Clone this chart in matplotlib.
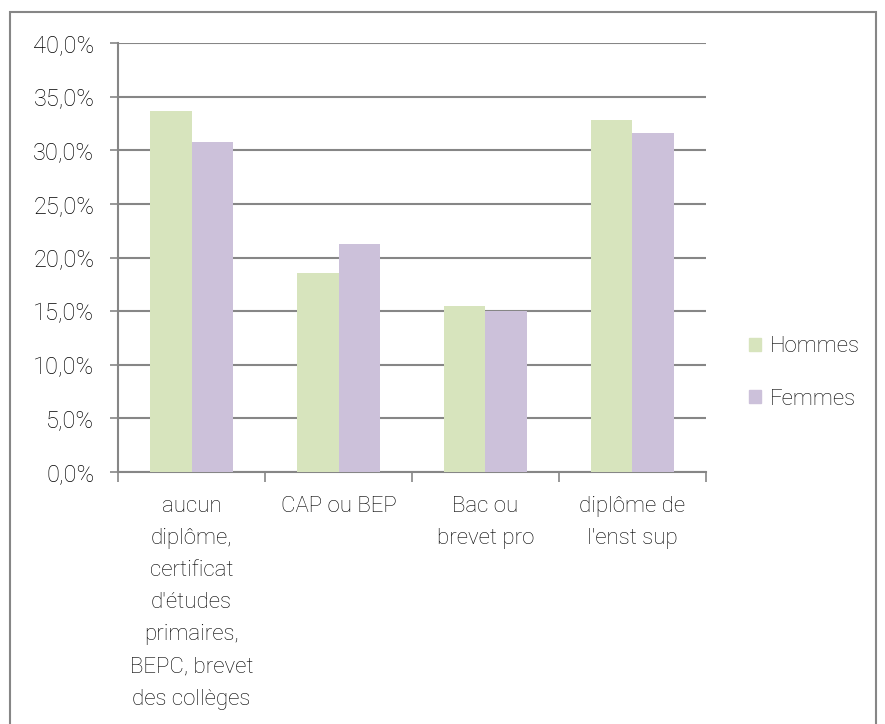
import matplotlib
matplotlib.use("Agg")
from matplotlib import pyplot as plt
from matplotlib.patches import Rectangle, Patch
from matplotlib.ticker import FuncFormatter, MultipleLocator
import numpy as np

categories = [
    "aucun\ndiplôme,\ncertificat\nd'études\nprimaires,\nBEPC, brevet\ndes collèges",
    "CAP ou BEP",
    "Bac ou\nbrevet pro",
    "diplôme de\nl'enst sup",
]
hommes = [33.7, 18.6, 15.5, 32.8]
femmes = [30.8, 21.3, 15.0, 31.6]

plt.rcParams['font.family'] = ['Roboto', 'DejaVu Sans']
plt.rcParams['font.weight'] = 'light'
col_h = '#D7E4BD'
col_f = '#CCC1DA'
grey = '#868686'
txt = '#000000'

W, H = 885, 724
fig = plt.figure(figsize=(W / 100, H / 100), dpi=100)

# outer chart border
fig.patches.append(Rectangle((10 / W, -0.01), 866 / W, (H - 12) / H + 0.01,
                             transform=fig.transFigure, fill=False,
                             edgecolor=grey, lw=1.5))

ax = fig.add_axes([118 / W, (H - 472) / H, (706 - 118) / W, (472 - 43) / H])

x = np.arange(len(categories))
w = 0.2857
ax.bar(x - w / 2, hommes, w, color=col_h, zorder=3)
ax.bar(x + w / 2, femmes, w, color=col_f, zorder=3)

ax.set_xlim(-0.5, len(categories) - 0.5)
ax.set_ylim(0, 40)
ax.yaxis.set_major_locator(MultipleLocator(5))
ax.yaxis.set_major_formatter(FuncFormatter(lambda v, p: f"{v:.1f}%".replace('.', ',')))
ax.grid(axis='y', color=grey, lw=1.5, zorder=0)
ax.set_axisbelow(True)

ax.set_xticks(x)
ax.set_xticklabels(categories, fontsize=16, color=txt, linespacing=1.7,
                   va='top')
ax.set_xticks(np.arange(-0.5, len(categories)), minor=True)
ax.tick_params(axis='x', which='major', length=0, pad=17)
ax.tick_params(axis='x', which='minor', length=7, width=1.2, color=grey)
ax.tick_params(axis='y', length=6, width=1.2, color=grey, labelsize=17,
               labelcolor=txt, pad=11)

for s in ['top', 'right']:
    ax.spines[s].set_visible(False)
for s in ['left', 'bottom']:
    ax.spines[s].set_color(grey)
    ax.spines[s].set_linewidth(1.5)

handles = [Patch(color=col_h, label='Hommes'), Patch(color=col_f, label='Femmes')]
fig.legend(handles=handles, loc='center left',
           bbox_to_anchor=(729 / W, 1 - 373 / H), frameon=False,
           fontsize=16, labelcolor=txt, handlelength=0.55, handleheight=0.55,
           handletextpad=0.4, labelspacing=1.4)

plt.savefig("out.png", dpi=100)
